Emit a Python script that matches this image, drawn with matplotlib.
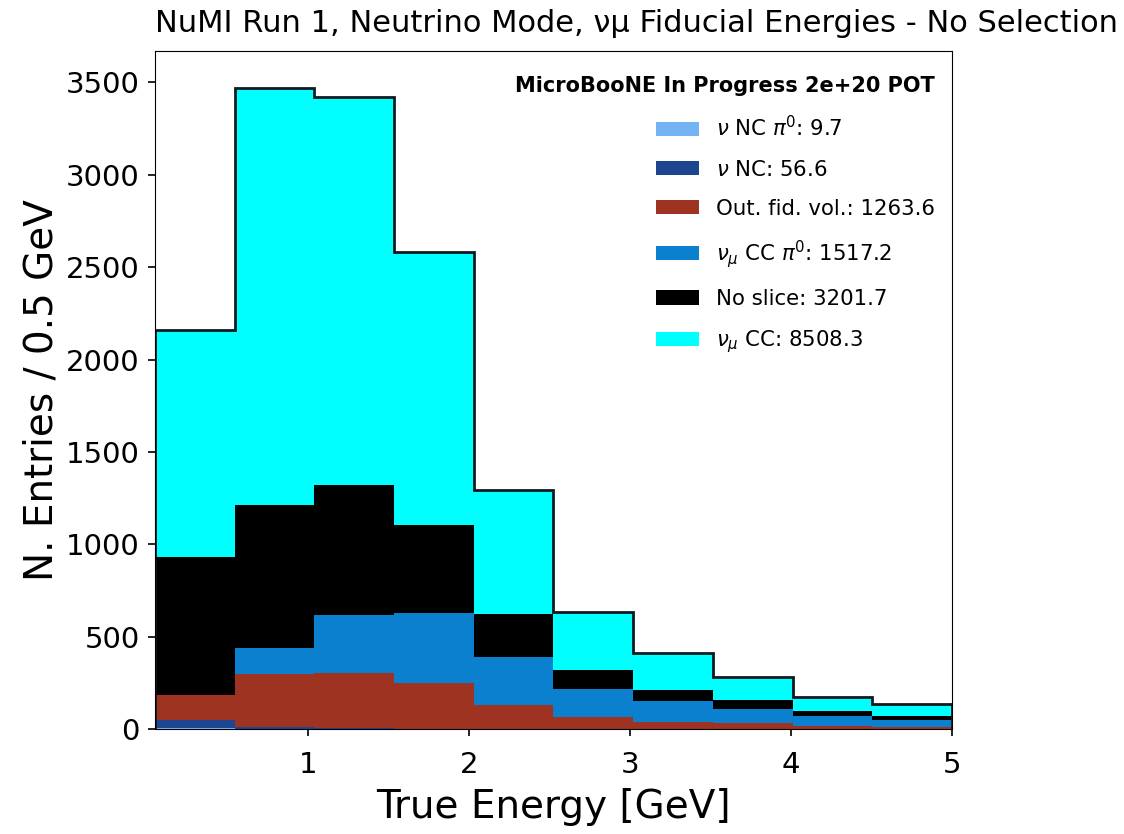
import numpy as np
import matplotlib
matplotlib.use("Agg")
import matplotlib.pyplot as plt

# Binning in true neutrino energy [GeV]
bin_edges = np.linspace(0.05, 5.0, 11)

# Per-bin event counts for each category (bottom of the stack first)
nc_pi0 = [5.0, 2.2, 1.4, 0.5, 0.3, 0.1, 0.1, 0.05, 0.03, 0.02]
nc = [46.0, 6.0, 3.0, 0.8, 0.4, 0.1, 0.1, 0.1, 0.05, 0.05]
out_fv = [135.0, 290.0, 300.0, 245.0, 130.0, 65.0, 40.0, 30.0, 18.0, 10.6]
numu_cc_pi0 = [0.0, 140.0, 314.0, 380.0, 258.0, 150.0, 110.0, 78.0, 50.0, 37.2]
no_slice = [745.0, 775.0, 700.0, 480.0, 236.0, 102.0, 62.0, 50.0, 27.0, 24.7]
numu_cc = [1228.0, 2255.0, 2105.0, 1476.0, 668.0, 314.0, 197.0, 125.0, 80.0, 60.3]

category_names = [r"$\nu$ NC $\pi^0$", r"$\nu$ NC", "Out. fid. vol.",
                  r"$\nu_\mu$ CC $\pi^0$", "No slice", r"$\nu_\mu$ CC"]
category_colors = ["#74b4f5", "#1d4590", "#9e3322", "#0b80cf", "#000000", "#00ffff"]

title = "NuMI Run 1, Neutrino Mode, \u03bd\u03bc Fiducial Energies - No Selection"
tag = "MicroBooNE In Progress 2e+20 POT"

plt.rcParams["font.family"] = ["DejaVu Sans"]
plt.rcParams["mathtext.fontset"] = "dejavusans"

series = [nc_pi0, nc, out_fv, numu_cc_pi0, no_slice, numu_cc]
centers = 0.5 * (bin_edges[:-1] + bin_edges[1:])

fig = plt.figure(figsize=(11.24, 8.34), dpi=100)
ax = fig.add_axes([155 / 1124, 1 - 729 / 834, (952 - 155) / 1124, (729 - 51) / 834])

labels = [f"{n}: {np.sum(s):.1f}" for n, s in zip(category_names, series)]
ax.hist([centers] * len(series), bins=bin_edges, weights=series, stacked=True,
        histtype="stepfilled", color=category_colors, label=labels, linewidth=0)

total = np.sum(np.array(series), axis=0)
ax.hist(centers, bins=bin_edges, weights=total, histtype="step",
        color="#111a1f", linewidth=2.0)

ax.set_xlim(0.05, 5.0)
ax.set_ylim(0, 3670)
ax.set_xticks([1, 2, 3, 4, 5])
ax.set_yticks(np.arange(0, 3501, 500))
ax.tick_params(labelsize=21, length=5, width=1.2)
ax.tick_params(axis="x", pad=11)
ax.tick_params(axis="y", pad=6)
ax.set_xlabel("True Energy [GeV]", fontsize=28, labelpad=6)
ax.set_ylabel("N. Entries / 0.5 GeV", fontsize=28, labelpad=4)

handles, leg_labels = ax.get_legend_handles_labels()
leg = ax.legend(handles[::-1], leg_labels[::-1], frameon=False,
                loc="upper right", bbox_to_anchor=(1.0, 0.988),
                fontsize=15.3, title=tag, alignment="right",
                title_fontproperties={"weight": "bold", "size": 15},
                handlelength=2.0, handleheight=0.66, handletextpad=0.8,
                labelspacing=0.9, borderaxespad=0.4)

fig.text(155 / 1124, 1 - 24 / 834, title, fontsize=22, ha="left", va="center")

fig.savefig("out.png", dpi=100)
